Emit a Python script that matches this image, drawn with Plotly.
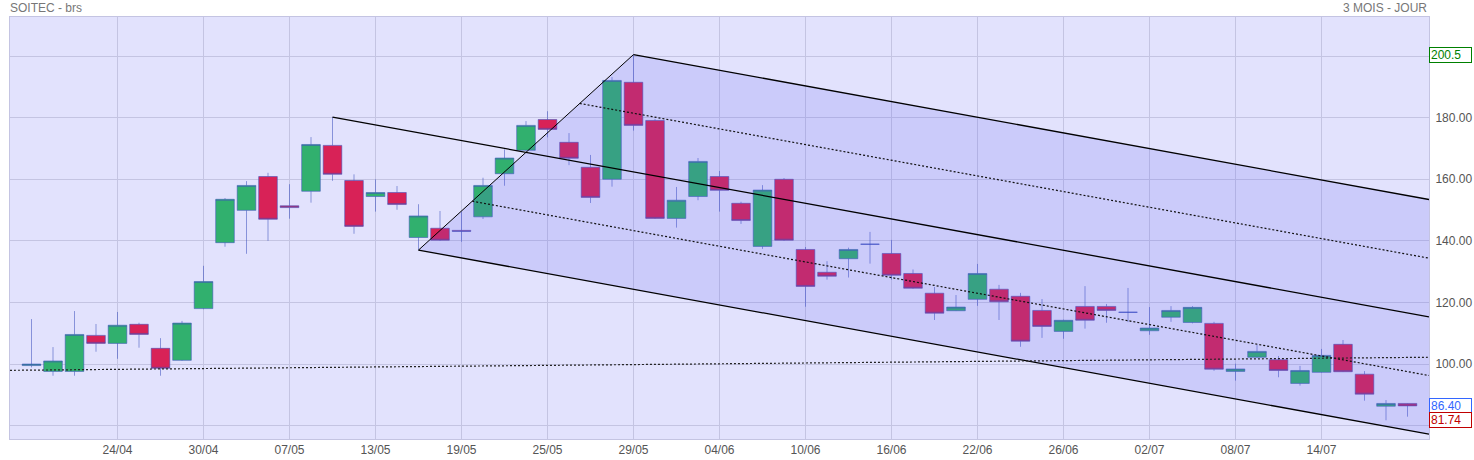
import plotly.graph_objects as go

# ---- data ----
x_idx = list(range(65))
open_ = [99.5, 97.6, 97.6, 109.3, 106.7, 112.9, 105.1, 101.2, 118.0, 139.4,
         149.9, 160.9, 151.4, 156.1, 171.0, 159.6, 154.4, 155.7, 141.1, 144.1,
         143.4, 147.8, 161.8, 169.4, 179.4, 172.0, 163.9, 160.0, 191.5, 179.1,
         147.3, 154.4, 160.9, 152.2, 138.2, 160.0, 137.2, 129.8, 134.2, 138.9,
         135.9, 129.4, 123.0, 117.3, 121.0, 124.3, 122.0, 117.4, 110.6, 118.7,
         118.7, 116.8, 110.8, 115.2, 113.5, 113.2, 97.6, 102.2, 101.4, 93.7,
         97.3, 106.4, 96.7, 86.3, 87.2]
close = [100.0, 101.0, 109.6, 106.7, 112.6, 109.6, 98.6, 113.3, 126.8, 153.5,
         158.0, 147.0, 150.8, 171.3, 161.6, 144.7, 155.7, 151.8, 148.1, 140.2,
         143.1, 158.0, 166.9, 177.5, 176.2, 166.8, 154.1, 192.1, 177.5, 147.3,
         153.2, 165.8, 156.4, 146.6, 156.5, 140.2, 125.2, 128.5, 137.2, 138.9,
         128.8, 124.6, 116.5, 118.5, 129.4, 120.2, 107.4, 112.2, 114.2, 114.2,
         117.4, 116.8, 111.7, 117.4, 118.4, 98.3, 98.4, 104.1, 97.9, 97.9,
         102.8, 97.5, 90.2, 87.2, 86.4]
high = [114.6, 105.5, 117.2, 113.0, 116.9, 113.4, 108.4, 114.0, 131.9, 153.9,
        159.4, 162.1, 158.4, 173.7, 180.2, 161.6, 160.0, 157.8, 151.9, 149.7,
        149.5, 160.5, 169.7, 178.9, 182.1, 175.0, 167.9, 193.2, 200.5, 179.6,
        157.5, 166.9, 162.7, 152.7, 158.1, 160.4, 138.0, 133.4, 137.8, 142.9,
        140.3, 130.7, 125.0, 122.4, 132.5, 125.7, 123.1, 121.1, 114.4, 125.3,
        119.5, 124.7, 118.5, 118.8, 118.8, 113.7, 100.1, 106.2, 102.6, 99.4,
        104.9, 107.8, 97.7, 88.3, 87.3]
low = [98.9, 96.2, 96.2, 104.0, 101.7, 105.3, 96.2, 101.0, 117.8, 138.1,
       135.8, 140.0, 147.2, 152.4, 159.5, 142.3, 149.5, 150.1, 137.0, 140.0,
       139.7, 147.1, 157.9, 169.2, 173.6, 164.6, 152.3, 157.6, 175.8, 147.1,
       144.3, 153.2, 149.5, 145.5, 137.4, 140.0, 118.6, 127.4, 128.1, 132.6,
       127.4, 124.4, 114.3, 117.2, 118.9, 114.3, 105.6, 108.5, 108.2, 111.5,
       113.4, 113.6, 109.5, 113.7, 113.2, 97.8, 94.6, 102.0, 95.7, 93.0,
       97.2, 97.4, 88.1, 81.74, 82.9]

tick_pos = [4, 8, 12, 16, 20, 24, 28, 32, 36, 40, 44, 48, 52, 56, 60]
tick_text = ["24/04", "30/04", "07/05", "13/05", "19/05", "25/05", "29/05",
             "04/06", "10/06", "16/06", "22/06", "26/06", "02/07", "08/07", "14/07"]

y_tick_vals = [80, 100, 120, 140, 160, 180, 200]
y_tick_text = ["", "100.00", "120.00", "140.00", "160.00", "180.00", ""]

# pitchfork anchors (index, price)
pf_a = (14, 180.2)
pf_b = (18, 137.0)
pf_c = (28, 200.5)

# trend line endpoints
trend_x = [-1, 65]
trend_y = [97.95, 102.2]

X_MIN, X_MAX = -1, 65
Y_MIN, Y_MAX = 75.65, 212.7

# ---- pitchfork geometry ----
mid = ((pf_b[0] + pf_c[0]) / 2, (pf_b[1] + pf_c[1]) / 2)
slope = (mid[1] - pf_a[1]) / (mid[0] - pf_a[0])


def line_at(p, x):
    return p[1] + slope * (x - p[0])


bc_slope = (pf_c[1] - pf_b[1]) / (pf_c[0] - pf_b[0])


def bc_intersect(p):
    x = (pf_b[1] - bc_slope * pf_b[0] - p[1] + slope * p[0]) / (slope - bc_slope)
    return x, line_at(p, x)


up_q = ((pf_c[0] + mid[0]) / 2, (pf_c[1] + mid[1]) / 2)
lo_q = ((pf_b[0] + mid[0]) / 2, (pf_b[1] + mid[1]) / 2)
up_q_start = bc_intersect(up_q)
lo_q_start = bc_intersect(lo_q)

fig = go.Figure()

edge = "rgba(60,80,190,0.55)"
fig.add_trace(go.Candlestick(
    x=x_idx, open=open_, high=high, low=low, close=close,
    increasing=dict(fillcolor="#31b06e", line=dict(color=edge, width=1)),
    decreasing=dict(fillcolor="#d82257", line=dict(color=edge, width=1)),
    whiskerwidth=0, hoverinfo="skip", showlegend=False,
))

# shaded channel
poly_x = [pf_b[0], pf_c[0], X_MAX, X_MAX, pf_b[0]]
poly_y = [pf_b[1], pf_c[1], line_at(pf_c, X_MAX), line_at(pf_b, X_MAX), pf_b[1]]
fig.add_trace(go.Scatter(x=poly_x, y=poly_y, mode="lines", fill="toself",
                         fillcolor="rgba(90,90,240,0.17)", line=dict(width=0),
                         hoverinfo="skip", showlegend=False))

# solid lines
for p in (pf_a, pf_b, pf_c):
    fig.add_trace(go.Scatter(x=[p[0], X_MAX], y=[p[1], line_at(p, X_MAX)],
                             mode="lines", line=dict(color="black", width=1.3),
                             hoverinfo="skip", showlegend=False))
fig.add_trace(go.Scatter(x=[pf_b[0], pf_c[0]], y=[pf_b[1], pf_c[1]],
                         mode="lines", line=dict(color="black", width=1),
                         hoverinfo="skip", showlegend=False))
# dotted quarter lines
for s, q in ((up_q_start, up_q), (lo_q_start, lo_q)):
    fig.add_trace(go.Scatter(x=[s[0], X_MAX], y=[s[1], line_at(q, X_MAX)],
                             mode="lines", line=dict(color="#111", width=1.2, dash="2px,2px"),
                             hoverinfo="skip", showlegend=False))
# trend line
fig.add_trace(go.Scatter(x=trend_x, y=trend_y, mode="lines",
                         line=dict(color="#222", width=1.2, dash="2px,2px"),
                         hoverinfo="skip", showlegend=False))

grid = "#c4c4e2"
font = "Liberation Sans, Arial, sans-serif"

fig.update_layout(
    width=1474, height=460,
    margin=dict(l=10, r=45, t=17, b=21, autoexpand=False),
    paper_bgcolor="white", plot_bgcolor="#e2e2fd",
    boxgap=0.07, boxgroupgap=0.07,
    showlegend=False,
    font=dict(family=font, size=12, color="#555"),
    xaxis=dict(range=[X_MIN, X_MAX], tickmode="array", tickvals=tick_pos,
               ticktext=tick_text, showgrid=True, gridcolor=grid, gridwidth=1,
               zeroline=False, showline=True, linecolor=grid, mirror=True,
               rangeslider=dict(visible=False), ticks="", fixedrange=True,
               automargin=False, tickfont=dict(size=12, color="#555")),
    yaxis=dict(range=[Y_MIN, Y_MAX], side="right", tickmode="array",
               tickvals=y_tick_vals, ticktext=y_tick_text, showgrid=True,
               gridcolor=grid, gridwidth=1, zeroline=False, showline=True,
               linecolor=grid, mirror=True, ticks="outside", ticklen=3,
               automargin=False,
               tickcolor="rgba(0,0,0,0)", tickfont=dict(size=12, color="#555")),
    annotations=[
        dict(text="SOITEC - brs", xref="paper", yref="paper", x=0, y=1,
             xanchor="left", yanchor="bottom", showarrow=False, xshift=-2,
             font=dict(size=12, color="#777")),
        dict(text="3 MOIS - JOUR", xref="paper", yref="paper", x=1, y=1,
             xanchor="right", yanchor="bottom", showarrow=False,
             font=dict(size=12, color="#777")),
    ],
)

hi_val = max(high)
lo_val = min(low)
last_val = close[-1]
for val, txt, col in ((hi_val, f"{hi_val:.1f}", "#008000"),
                      (last_val, f"{last_val:.2f}", "#3366ff"),
                      (lo_val, f"{lo_val:.2f}", "#c00000")):
    fig.add_annotation(text=txt, xref="paper", yref="y", x=1, y=val,
                       xanchor="left", yanchor="middle", showarrow=False,
                       align="left", width=39, height=12, borderpad=1,
                       bordercolor=col, borderwidth=1, bgcolor="white",
                       font=dict(size=12, color=col))

fig.write_html("out.html")
